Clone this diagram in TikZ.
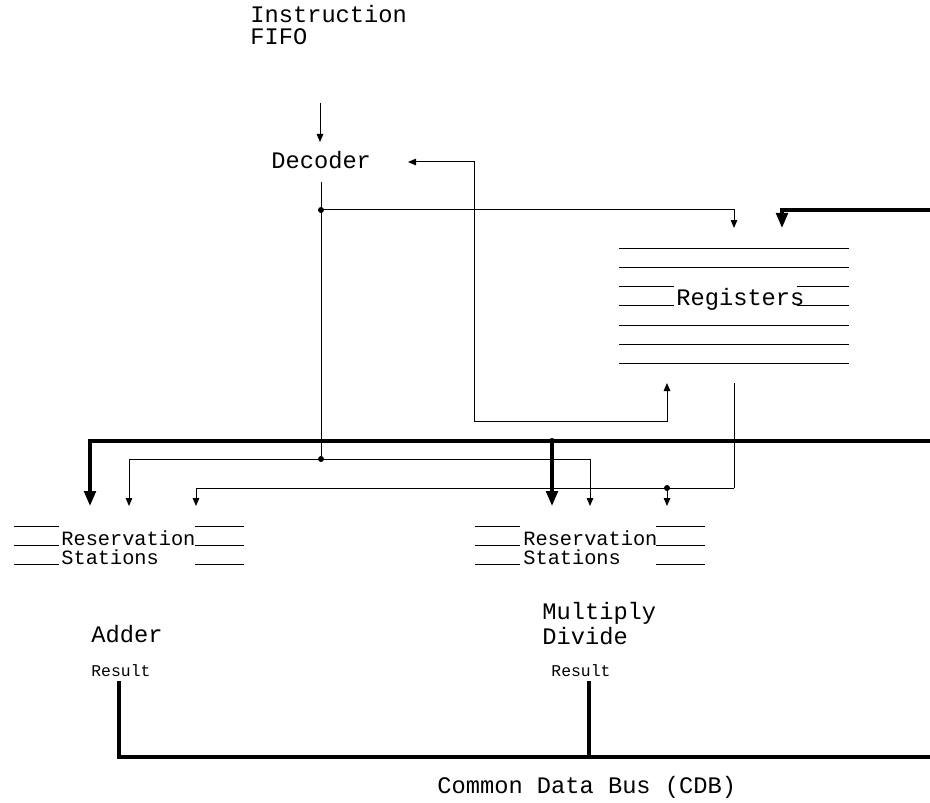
\documentclass[tikz,border=0pt]{standalone}
\usepackage{fontspec}
\setmonofont{Liberation Mono}
\usetikzlibrary{arrows.meta}

\begin{document}
\begin{tikzpicture}[
    x=0.5pt, y=-0.5pt,
    every node/.style={inner sep=0pt},
    txt/.style={anchor=base west, align=left, font=\ttfamily\fontsize{11.85}{11}\selectfont},
    rstxt/.style={anchor=base west, align=left, font=\ttfamily\fontsize{10.15}{9.5}\selectfont},
    smalltxt/.style={anchor=base west, font=\ttfamily\fontsize{8.2}{9}\selectfont},
    wire/.style={line width=0.5pt},
    arrow/.style={wire, -{Triangle[length=4pt, width=3.3pt]}},
    dblarrow/.style={wire, {Triangle[length=4pt, width=3.3pt]}-{Triangle[length=4pt, width=3.3pt]}},
    bus/.style={line width=1.65pt},
    busarrow/.style={bus, -{Triangle[length=7.5pt, width=5.8pt]}},
    regline/.style={line width=0.5pt},
    junction/.style={circle, fill, minimum size=3pt},
]
\useasboundingbox (0,0) rectangle (930,802);

% ===== Texts (multi-line nodes sit on their last baseline) =====
\node[txt] (fifo) at (250,45) {Instruction\\FIFO};
\node[txt] (decoder) at (271,169) {Decoder};
\node[txt] (regs) at (676,305) {Registers};
\node[rstxt] (rsadd) at (61,564) {Reservation\\Stations};
\node[rstxt] (rsmul) at (523,564) {Reservation\\Stations};
\node[txt] (adder) at (91,642) {Adder};
\node[txt] (muldiv) at (542,644) {Multiply\\Divide};
\node[smalltxt] (resadd) at (91,676) {Result};
\node[smalltxt] (resmul) at (551,676) {Result};
\node[txt] (cdb) at (437,793) {Common Data Bus (CDB)};

% ===== Register file lines =====
\foreach \y in {248,267.3,325,344,363.3}
    \draw[regline] (619,\y) -- (849,\y);
\foreach \y in {286.5,305.5} {
    \draw[regline] (619,\y) -- (674,\y);
    \draw[regline] (797,\y) -- (849,\y);
}

% ===== Reservation station lines =====
\foreach \x in {14,475}
    \foreach \y in {526,545,564} {
        \draw[regline] (\x,\y) -- ++(45,0);
        \draw[regline] (\x+181,\y) -- ++(49,0);
    }

% ===== Connection points =====
\coordinate (fifoout) at (320,103);
\coordinate (decin) at (320,142);
\coordinate (decout) at (321,182);
\coordinate (decfb) at (408,162);
\coordinate (jdec) at (321,210);
\coordinate (jrs) at (321,459);
\coordinate (regin) at (734,228);
\coordinate (regcdb) at (782,228);
\coordinate (regfb) at (667,383);
\coordinate (fbturn) at (474,421);
\coordinate (regout) at (734,383);
\coordinate (regturn) at (734,488);
\coordinate (jreg) at (667,488);
\coordinate (addop1) at (90,506);
\coordinate (addop2) at (129,506);
\coordinate (addop3) at (196,506);
\coordinate (mulop1) at (552,506);
\coordinate (mulop2) at (590,506);
\coordinate (mulop3) at (667,506);
\coordinate (cdbin) at (930,210);
\coordinate (cdbrs) at (930,441);
\coordinate (jbus) at (552,441);
\coordinate (addout) at (119,681);
\coordinate (mulout) at (589,681);
\coordinate (cdbend) at (930,757);
\coordinate (jcdb) at (589,757);

% ===== ARROWS =====
% Instruction path
\draw[arrow] (fifoout) -- (decin);
\draw[wire] (decout) -- (jrs);
\draw[arrow] (jdec) -| (regin);
\draw[dblarrow] (decfb) -| (fbturn) -| (regfb);

% Operands to the reservation stations
\draw[arrow] (jrs) -| (addop2);
\draw[arrow] (jrs) -| (mulop2);
\draw[wire] (regout) -- (regturn);
\draw[arrow] (regturn) -| (addop3);
\draw[arrow] (jreg) -- (mulop3);

% Common data bus
\draw[busarrow] (cdbin) -| (regcdb);
\draw[busarrow] (cdbrs) -| (addop1);
\draw[busarrow] (jbus) -- (mulop1);
\draw[bus] (addout) |- (cdbend);
\draw[bus] (mulout) -- (jcdb);

% Junctions
\foreach \p in {jdec, jrs, jreg, jbus}
    \node[junction] (dot\p) at (\p) {};

\end{tikzpicture}
\end{document}
